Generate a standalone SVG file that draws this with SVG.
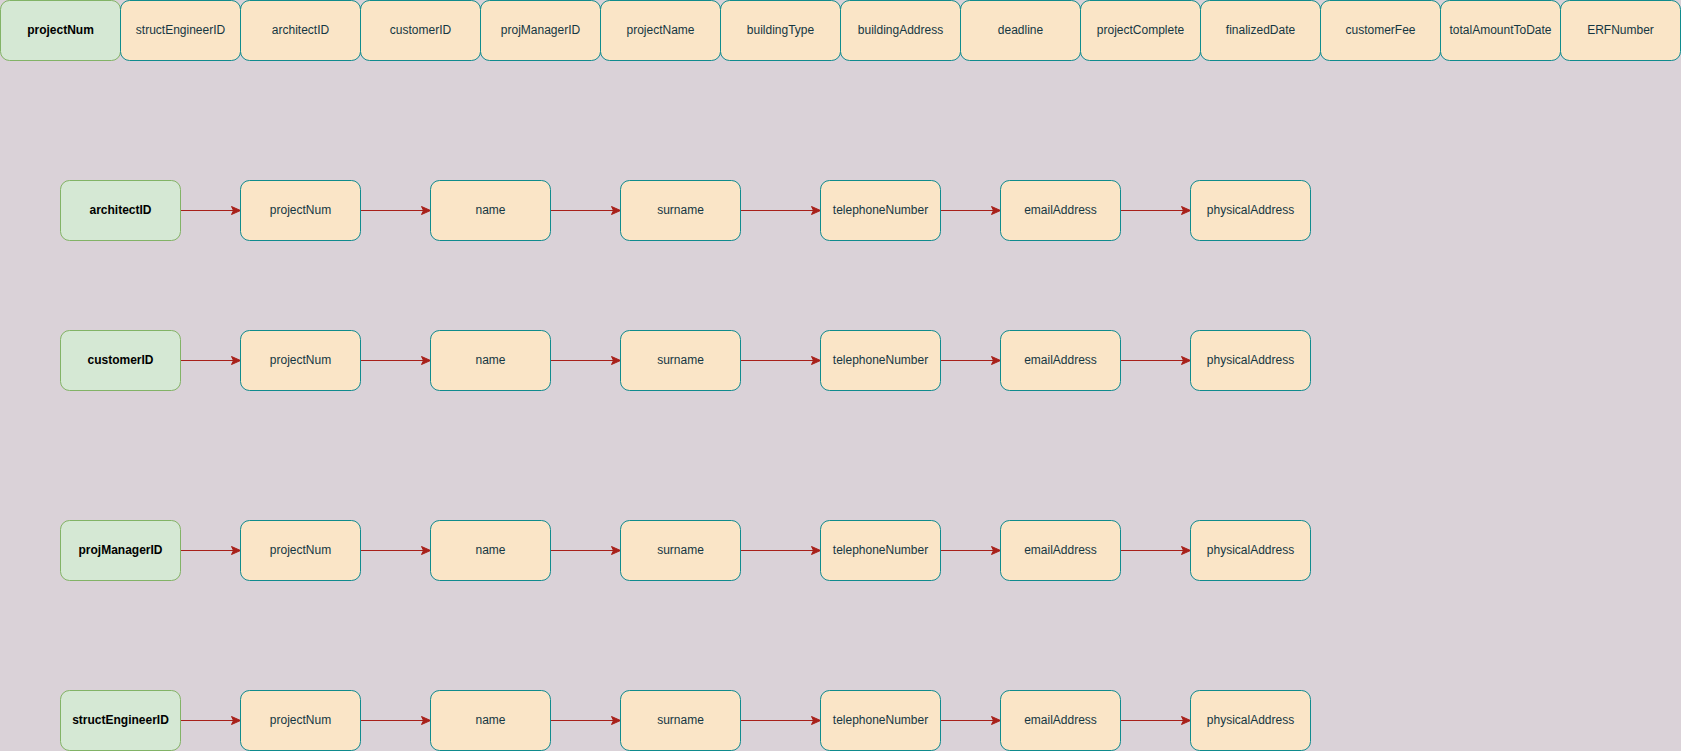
<svg xmlns="http://www.w3.org/2000/svg" width="1681" height="751" viewBox="0 0 1681 751">
<style>
.k rect{fill:#d5e8d4;stroke:#82b366;stroke-width:1}
.a rect{fill:#fae5c7;stroke:#0f8b8d;stroke-width:1}
text{font-family:"Liberation Sans",Arial,sans-serif;font-size:12px;text-anchor:middle;dominant-baseline:central}
.k text{font-weight:bold;fill:#000}
.a text{fill:#143642}
#edges line{stroke:#a8201a;stroke-width:1;marker-end:url(#ah)}
</style>
<defs>
<marker id="ah" markerUnits="userSpaceOnUse" markerWidth="12" markerHeight="12" refX="10" refY="6" orient="auto">
<path d="M1,2 L10,6 L1,10 L3,6 Z" fill="#a8201a" stroke="#a8201a" stroke-width="1"/>
</marker>
</defs>
<rect x="0" y="0" width="1681" height="751" fill="#dad2d8"/>
<g id="top">
<g id="t0" class="k"><rect x="0.5" y="0.5" width="120" height="60" rx="9"/><text x="60.5" y="29.5">projectNum</text></g>
<g id="t1" class="a"><rect x="120.5" y="0.5" width="120" height="60" rx="9"/><text x="180.5" y="29.5">structEngineerID</text></g>
<g id="t2" class="a"><rect x="240.5" y="0.5" width="120" height="60" rx="9"/><text x="300.5" y="29.5">architectID</text></g>
<g id="t3" class="a"><rect x="360.5" y="0.5" width="120" height="60" rx="9"/><text x="420.5" y="29.5">customerID</text></g>
<g id="t4" class="a"><rect x="480.5" y="0.5" width="120" height="60" rx="9"/><text x="540.5" y="29.5">projManagerID</text></g>
<g id="t5" class="a"><rect x="600.5" y="0.5" width="120" height="60" rx="9"/><text x="660.5" y="29.5">projectName</text></g>
<g id="t6" class="a"><rect x="720.5" y="0.5" width="120" height="60" rx="9"/><text x="780.5" y="29.5">buildingType</text></g>
<g id="t7" class="a"><rect x="840.5" y="0.5" width="120" height="60" rx="9"/><text x="900.5" y="29.5">buildingAddress</text></g>
<g id="t8" class="a"><rect x="960.5" y="0.5" width="120" height="60" rx="9"/><text x="1020.5" y="29.5">deadline</text></g>
<g id="t9" class="a"><rect x="1080.5" y="0.5" width="120" height="60" rx="9"/><text x="1140.5" y="29.5">projectComplete</text></g>
<g id="t10" class="a"><rect x="1200.5" y="0.5" width="120" height="60" rx="9"/><text x="1260.5" y="29.5">finalizedDate</text></g>
<g id="t11" class="a"><rect x="1320.5" y="0.5" width="120" height="60" rx="9"/><text x="1380.5" y="29.5">customerFee</text></g>
<g id="t12" class="a"><rect x="1440.5" y="0.5" width="120" height="60" rx="9"/><text x="1500.5" y="29.5">totalAmountToDate</text></g>
<g id="t13" class="a"><rect x="1560.5" y="0.5" width="120" height="60" rx="9"/><text x="1620.5" y="29.5">ERFNumber</text></g>
</g>
<g id="edges">
<line x1="180.5" y1="210.5" x2="240.5" y2="210.5"/><line x1="360.5" y1="210.5" x2="430.5" y2="210.5"/><line x1="550.5" y1="210.5" x2="620.5" y2="210.5"/><line x1="740.5" y1="210.5" x2="820.5" y2="210.5"/><line x1="940.5" y1="210.5" x2="1000.5" y2="210.5"/><line x1="1120.5" y1="210.5" x2="1190.5" y2="210.5"/>
<line x1="180.5" y1="360.5" x2="240.5" y2="360.5"/><line x1="360.5" y1="360.5" x2="430.5" y2="360.5"/><line x1="550.5" y1="360.5" x2="620.5" y2="360.5"/><line x1="740.5" y1="360.5" x2="820.5" y2="360.5"/><line x1="940.5" y1="360.5" x2="1000.5" y2="360.5"/><line x1="1120.5" y1="360.5" x2="1190.5" y2="360.5"/>
<line x1="180.5" y1="550.5" x2="240.5" y2="550.5"/><line x1="360.5" y1="550.5" x2="430.5" y2="550.5"/><line x1="550.5" y1="550.5" x2="620.5" y2="550.5"/><line x1="740.5" y1="550.5" x2="820.5" y2="550.5"/><line x1="940.5" y1="550.5" x2="1000.5" y2="550.5"/><line x1="1120.5" y1="550.5" x2="1190.5" y2="550.5"/>
<line x1="180.5" y1="720.5" x2="240.5" y2="720.5"/><line x1="360.5" y1="720.5" x2="430.5" y2="720.5"/><line x1="550.5" y1="720.5" x2="620.5" y2="720.5"/><line x1="740.5" y1="720.5" x2="820.5" y2="720.5"/><line x1="940.5" y1="720.5" x2="1000.5" y2="720.5"/><line x1="1120.5" y1="720.5" x2="1190.5" y2="720.5"/>
</g>
<g id="r1">
<g id="r1k" class="k"><rect x="60.5" y="180.5" width="120" height="60" rx="9"/><text x="120.5" y="209.5">architectID</text></g>
<g id="r1a" class="a"><rect x="240.5" y="180.5" width="120" height="60" rx="9"/><text x="300.5" y="209.5">projectNum</text></g>
<g id="r1b" class="a"><rect x="430.5" y="180.5" width="120" height="60" rx="9"/><text x="490.5" y="209.5">name</text></g>
<g id="r1c" class="a"><rect x="620.5" y="180.5" width="120" height="60" rx="9"/><text x="680.5" y="209.5">surname</text></g>
<g id="r1d" class="a"><rect x="820.5" y="180.5" width="120" height="60" rx="9"/><text x="880.5" y="209.5">telephoneNumber</text></g>
<g id="r1e" class="a"><rect x="1000.5" y="180.5" width="120" height="60" rx="9"/><text x="1060.5" y="209.5">emailAddress</text></g>
<g id="r1f" class="a"><rect x="1190.5" y="180.5" width="120" height="60" rx="9"/><text x="1250.5" y="209.5">physicalAddress</text></g>
</g>
<g id="r2">
<g id="r2k" class="k"><rect x="60.5" y="330.5" width="120" height="60" rx="9"/><text x="120.5" y="359.5">customerID</text></g>
<g id="r2a" class="a"><rect x="240.5" y="330.5" width="120" height="60" rx="9"/><text x="300.5" y="359.5">projectNum</text></g>
<g id="r2b" class="a"><rect x="430.5" y="330.5" width="120" height="60" rx="9"/><text x="490.5" y="359.5">name</text></g>
<g id="r2c" class="a"><rect x="620.5" y="330.5" width="120" height="60" rx="9"/><text x="680.5" y="359.5">surname</text></g>
<g id="r2d" class="a"><rect x="820.5" y="330.5" width="120" height="60" rx="9"/><text x="880.5" y="359.5">telephoneNumber</text></g>
<g id="r2e" class="a"><rect x="1000.5" y="330.5" width="120" height="60" rx="9"/><text x="1060.5" y="359.5">emailAddress</text></g>
<g id="r2f" class="a"><rect x="1190.5" y="330.5" width="120" height="60" rx="9"/><text x="1250.5" y="359.5">physicalAddress</text></g>
</g>
<g id="r3">
<g id="r3k" class="k"><rect x="60.5" y="520.5" width="120" height="60" rx="9"/><text x="120.5" y="549.5">projManagerID</text></g>
<g id="r3a" class="a"><rect x="240.5" y="520.5" width="120" height="60" rx="9"/><text x="300.5" y="549.5">projectNum</text></g>
<g id="r3b" class="a"><rect x="430.5" y="520.5" width="120" height="60" rx="9"/><text x="490.5" y="549.5">name</text></g>
<g id="r3c" class="a"><rect x="620.5" y="520.5" width="120" height="60" rx="9"/><text x="680.5" y="549.5">surname</text></g>
<g id="r3d" class="a"><rect x="820.5" y="520.5" width="120" height="60" rx="9"/><text x="880.5" y="549.5">telephoneNumber</text></g>
<g id="r3e" class="a"><rect x="1000.5" y="520.5" width="120" height="60" rx="9"/><text x="1060.5" y="549.5">emailAddress</text></g>
<g id="r3f" class="a"><rect x="1190.5" y="520.5" width="120" height="60" rx="9"/><text x="1250.5" y="549.5">physicalAddress</text></g>
</g>
<g id="r4">
<g id="r4k" class="k"><rect x="60.5" y="690.5" width="120" height="60" rx="9"/><text x="120.5" y="719.5">structEngineerID</text></g>
<g id="r4a" class="a"><rect x="240.5" y="690.5" width="120" height="60" rx="9"/><text x="300.5" y="719.5">projectNum</text></g>
<g id="r4b" class="a"><rect x="430.5" y="690.5" width="120" height="60" rx="9"/><text x="490.5" y="719.5">name</text></g>
<g id="r4c" class="a"><rect x="620.5" y="690.5" width="120" height="60" rx="9"/><text x="680.5" y="719.5">surname</text></g>
<g id="r4d" class="a"><rect x="820.5" y="690.5" width="120" height="60" rx="9"/><text x="880.5" y="719.5">telephoneNumber</text></g>
<g id="r4e" class="a"><rect x="1000.5" y="690.5" width="120" height="60" rx="9"/><text x="1060.5" y="719.5">emailAddress</text></g>
<g id="r4f" class="a"><rect x="1190.5" y="690.5" width="120" height="60" rx="9"/><text x="1250.5" y="719.5">physicalAddress</text></g>
</g>
</svg>
